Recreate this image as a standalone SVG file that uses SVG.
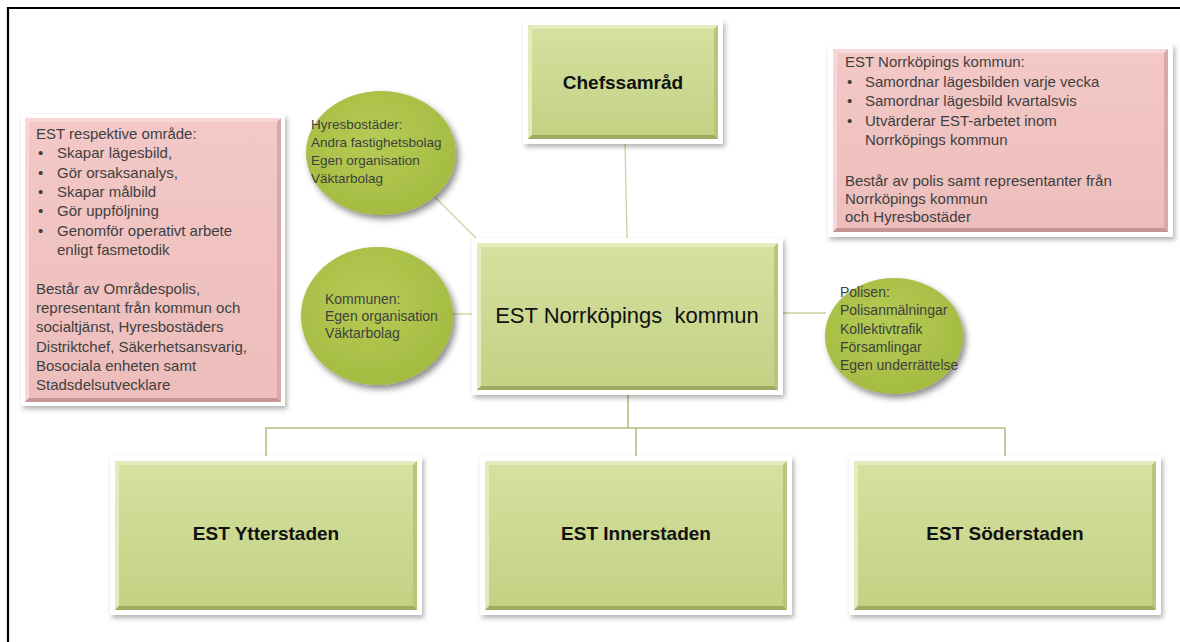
<svg xmlns="http://www.w3.org/2000/svg" width="1180" height="642" viewBox="0 0 1180 642">
<defs>
  <filter id="sh" x="-10%" y="-10%" width="125%" height="130%">
    <feDropShadow dx="2" dy="3" stdDeviation="2.5" flood-color="#000" flood-opacity="0.3"/>
  </filter>
  <filter id="csh" x="-15%" y="-15%" width="135%" height="140%">
    <feDropShadow dx="3" dy="4" stdDeviation="3" flood-color="#000" flood-opacity="0.45"/>
  </filter>
  <linearGradient id="gg" x1="0" y1="0" x2="0" y2="1">
    <stop offset="0" stop-color="#d5e19f"/>
    <stop offset="1" stop-color="#c3d184"/>
  </linearGradient>
  <linearGradient id="pg" x1="0" y1="0" x2="0" y2="1">
    <stop offset="0" stop-color="#f3c8c6"/>
    <stop offset="1" stop-color="#ecbdbb"/>
  </linearGradient>
  <radialGradient id="cg" cx="0.45" cy="0.4" r="0.65">
    <stop offset="0" stop-color="#b6cb55"/>
    <stop offset="1" stop-color="#a3ba40"/>
  </radialGradient>
  <style>
    .frame{fill:#fff;filter:url(#sh)}
    .green{fill:url(#gg)}
    .pink{fill:url(#pg)}
    .gl{fill:#e3ecbd}
    .gd{fill:#9dad5f}
    .gr{fill:#b7c67a}
    .pl{fill:#f7d8d6}
    .pd{fill:#c69593}
    .pr{fill:#d9a9a7}
    .circ{fill:url(#cg);filter:url(#csh)}
    .conn{stroke:#c9d29c;stroke-width:1.3;fill:none}
    .tree{stroke:#b3bd82;stroke-width:1.6;fill:none}
    .t{font-family:"Liberation Sans",Arial,sans-serif;fill:#3f3f3f}
    .box{font-size:15px}
    .cir{font-size:14px}
    .hd{font-family:"Liberation Sans",Arial,sans-serif;font-weight:bold;font-size:19px;fill:#111;text-anchor:middle}
    .main{font-family:"Liberation Sans",Arial,sans-serif;font-size:22px;fill:#111;text-anchor:middle}
  </style>
</defs>
<rect width="1180" height="642" fill="#fff"/>
<path d="M8,642 V8 H1180" stroke="#000" stroke-width="2.2" fill="none"/>

<g id="connectors">
  <line class="conn" x1="625" y1="142" x2="627" y2="239"/>
  <line class="conn" x1="425" y1="187" x2="476" y2="238"/>
  <line class="conn" x1="452" y1="314" x2="474" y2="314"/>
  <line class="conn" x1="781" y1="313" x2="826" y2="313"/>
  <path class="tree" d="M628,395 V428 M266,457 V428 H1005 V457 M636,428 V457"/>
</g>

<g id="chefssamrad">
  <rect class="frame" x="523" y="20" width="200" height="124"/>
  <rect class="green" x="528" y="25" width="190" height="114"/>
  <polygon class="gl" points="528,25 718,25 714,29 532,29"/>
  <polygon class="gl" points="528,25 532,29 532,135 528,139"/>
  <polygon class="gr" points="718,25 718,139 714,135 714,29"/>
  <polygon class="gd" points="528,139 718,139 714,135 532,135"/>
  <text class="hd" x="623" y="89">Chefssamråd</text>
</g>

<g id="main">
  <rect class="frame" x="472" y="238" width="311" height="157"/>
  <rect class="green" x="477" y="243" width="301" height="147"/>
  <polygon class="gl" points="477,243 778,243 774,247 481,247"/>
  <polygon class="gl" points="477,243 481,247 481,386 477,390"/>
  <polygon class="gr" points="778,243 778,390 774,386 774,247"/>
  <polygon class="gd" points="477,390 778,390 774,386 481,386"/>
  <text class="main" x="627" y="323" xml:space="preserve">EST Norrköpings  kommun</text>
</g>

<g id="ytterstaden">
  <rect class="frame" x="110" y="456" width="312" height="159"/>
  <rect class="green" x="115" y="461" width="302" height="149"/>
  <polygon class="gl" points="115,461 417,461 413,465 119,465"/>
  <polygon class="gl" points="115,461 119,465 119,606 115,610"/>
  <polygon class="gr" points="417,461 417,610 413,606 413,465"/>
  <polygon class="gd" points="115,610 417,610 413,606 119,606"/>
  <text class="hd" x="266" y="540">EST Ytterstaden</text>
</g>

<g id="innerstaden">
  <rect class="frame" x="480" y="456" width="312" height="159"/>
  <rect class="green" x="485" y="461" width="302" height="149"/>
  <polygon class="gl" points="485,461 787,461 783,465 489,465"/>
  <polygon class="gl" points="485,461 489,465 489,606 485,610"/>
  <polygon class="gr" points="787,461 787,610 783,606 783,465"/>
  <polygon class="gd" points="485,610 787,610 783,606 489,606"/>
  <text class="hd" x="636" y="540">EST Innerstaden</text>
</g>

<g id="soderstaden">
  <rect class="frame" x="849" y="456" width="312" height="159"/>
  <rect class="green" x="854" y="461" width="302" height="149"/>
  <polygon class="gl" points="854,461 1156,461 1152,465 858,465"/>
  <polygon class="gl" points="854,461 858,465 858,606 854,610"/>
  <polygon class="gr" points="1156,461 1156,610 1152,606 1152,465"/>
  <polygon class="gd" points="854,610 1156,610 1152,606 858,606"/>
  <text class="hd" x="1005" y="540">EST Söderstaden</text>
</g>

<g id="hyresbostader">
  <ellipse class="circ" cx="381" cy="153" rx="75" ry="62"/>
  <text class="t" style="font-size:13.5px" x="311">
    <tspan x="311" y="129">Hyresbostäder:</tspan>
    <tspan x="311" y="147">Andra fastighetsbolag</tspan>
    <tspan x="311" y="165">Egen organisation</tspan>
    <tspan x="311" y="183">Väktarbolag</tspan>
  </text>
</g>

<g id="kommunen">
  <ellipse class="circ" cx="377" cy="316" rx="76" ry="69"/>
  <text class="t cir">
    <tspan x="325" y="304">Kommunen:</tspan>
    <tspan x="325" y="321">Egen organisation</tspan>
    <tspan x="325" y="338">Väktarbolag</tspan>
  </text>
</g>

<g id="polisen">
  <ellipse class="circ" cx="894" cy="336" rx="69" ry="58"/>
  <text class="t cir">
    <tspan x="840" y="297">Polisen:</tspan>
    <tspan x="840" y="315">Polisanmälningar</tspan>
    <tspan x="840" y="334">Kollektivtrafik</tspan>
    <tspan x="840" y="352">Församlingar</tspan>
    <tspan x="840" y="370">Egen underrättelse</tspan>
  </text>
</g>

<g id="respektive-omrade">
  <rect class="frame" x="21" y="114" width="264" height="292"/>
  <rect class="pink" x="25" y="118" width="256" height="284"/>
  <polygon class="pl" points="25,118 281,118 277,122 29,122"/>
  <polygon class="pl" points="25,118 29,122 29,398 25,402"/>
  <polygon class="pr" points="281,118 281,402 277,398 277,122"/>
  <polygon class="pd" points="25,402 281,402 277,398 29,398"/>
  <text class="t box">
    <tspan x="36" y="139">EST respektive område:</tspan>
    <tspan x="38" y="158">•</tspan><tspan x="57" y="158">Skapar lägesbild,</tspan>
    <tspan x="38" y="177.5">•</tspan><tspan x="57" y="177.5">Gör orsaksanalys,</tspan>
    <tspan x="38" y="197">•</tspan><tspan x="57" y="197">Skapar målbild</tspan>
    <tspan x="38" y="216">•</tspan><tspan x="57" y="216">Gör uppföljning</tspan>
    <tspan x="38" y="235.5">•</tspan><tspan x="57" y="235.5">Genomför operativt arbete</tspan>
    <tspan x="57" y="255">enligt fasmetodik</tspan>
    <tspan x="36" y="293.5">Består av Områdespolis,</tspan>
    <tspan x="36" y="313">representant från kommun och</tspan>
    <tspan x="36" y="332">socialtjänst, Hyresbostäders</tspan>
    <tspan x="36" y="351.5">Distriktchef, Säkerhetsansvarig,</tspan>
    <tspan x="36" y="371">Bosociala enheten samt</tspan>
    <tspan x="36" y="390">Stadsdelsutvecklare</tspan>
  </text>
</g>

<g id="norrkopings-kommun-info">
  <rect class="frame" x="828" y="44" width="345" height="193"/>
  <rect class="pink" x="833" y="49" width="335" height="183"/>
  <polygon class="pl" points="833,49 1168,49 1164,53 837,53"/>
  <polygon class="pl" points="833,49 837,53 837,228 833,232"/>
  <polygon class="pr" points="1168,49 1168,232 1164,228 1164,53"/>
  <polygon class="pd" points="833,232 1168,232 1164,228 837,228"/>
  <text class="t box">
    <tspan x="845" y="67">EST Norrköpings kommun:</tspan>
    <tspan x="847" y="87">•</tspan><tspan x="865" y="87">Samordnar lägesbilden varje vecka</tspan>
    <tspan x="847" y="106">•</tspan><tspan x="865" y="106">Samordnar lägesbild kvartalsvis</tspan>
    <tspan x="847" y="126">•</tspan><tspan x="865" y="126">Utvärderar EST-arbetet inom</tspan>
    <tspan x="865" y="145">Norrköpings kommun</tspan>
    <tspan x="845" y="186">Består av polis samt representanter från</tspan>
    <tspan x="845" y="204">Norrköpings kommun</tspan>
    <tspan x="845" y="222">och Hyresbostäder</tspan>
  </text>
</g>
</svg>
